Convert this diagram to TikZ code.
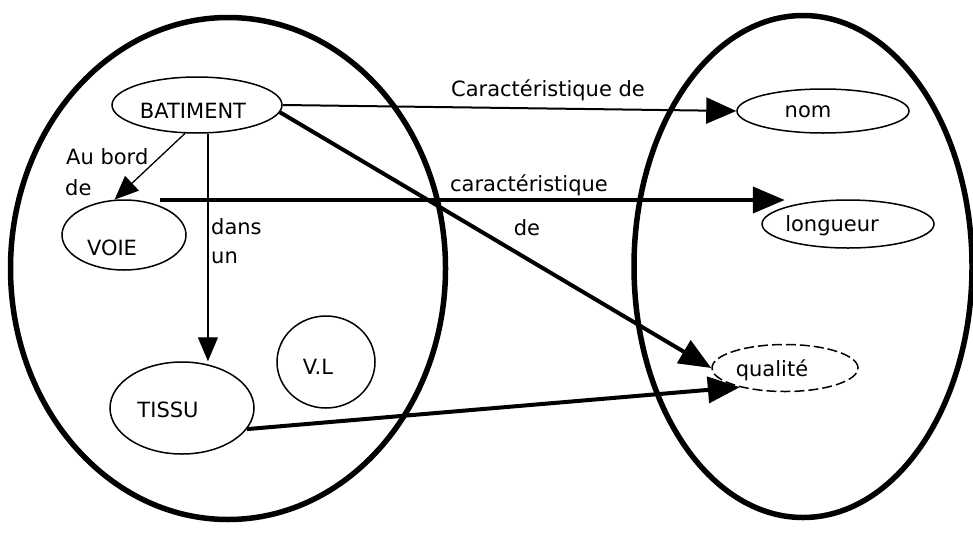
\documentclass[tikz,border=0pt]{standalone}
\usepackage{fontspec}
\setmainfont{DejaVu Sans}
\usetikzlibrary{arrows.meta,shapes.geometric}
\begin{document}
\begin{tikzpicture}[x=1pt,y=-1pt,
  txt/.style={font=\fontsize{21}{25}\selectfont, inner sep=0pt},
  ell/.style={draw, ellipse, line width=1.5pt, inner sep=0pt},
  bigell/.style={line width=5.5pt},
  thinarr/.style={line width=1.3pt, -{Triangle[length=24pt,width=20pt]}},
  midarr/.style={line width=2pt, -{Triangle[length=30pt,width=26pt]}},
  thickarr/.style={line width=4pt, -{Triangle[length=32pt,width=26pt]}}]
\useasboundingbox (0,0) rectangle (973,533);
\fill[white] (0,0) rectangle (973,533);

% big sets
\draw[bigell] (228,268.5) ellipse [x radius=217.5pt, y radius=251pt];
\draw[bigell] (803,266.5) ellipse [x radius=169pt, y radius=251pt];

% left nodes
\node[ell, minimum width=170pt, minimum height=56pt] (bat) at (197,105) {};
\node[txt] (batT) at (193,111) {BATIMENT};
\node[ell, minimum width=124pt, minimum height=70pt] (voie) at (124,235) {};
\node[txt] (voieT) at (112,248) {VOIE};
\node[ell, minimum width=144pt, minimum height=92pt] (tissu) at (182,408) {};
\node[txt] (tissuT) at (168,410) {TISSU};
\node[ell, minimum width=98pt, minimum height=92pt] (vl) at (326,362) {};
\node[txt] (vlT) at (318,367) {V.L};

% right nodes
\node[ell, minimum width=172pt, minimum height=44pt] (nom) at (823,111) {};
\node[txt] (nomT) at (808,112) {nom};
\node[ell, minimum width=172pt, minimum height=48pt] (long) at (848,224) {};
\node[txt] (longT) at (832,226) {longueur};
\node[ell, dashed, dash pattern=on 10pt off 4pt, minimum width=146pt, minimum height=47pt] (qual) at (785,368) {};
\node[txt] (qualT) at (772,370) {qualité};

% connectors
\draw[midarr] (bat.east) -- (nom.west);
\coordinate (c2) at (160,200);
\draw[thickarr] (c2) -- (c2 -| long.165);
\draw[thickarr] (bat.-5) -- (qual.west);
\draw[thickarr] (tissu.-18) -- (qual.-157);
\draw[thinarr] (bat.-113) -- (voie.105);
\draw[thinarr] (bat.-69) -- (bat.-69 |- tissu.north);

% labels
\node[txt] (l1) at (548,90) {Caractéristique de};
\node[txt] (l2a) at (529,185) {caractéristique};
\node[txt] (l2b) at (527,228) {de};
\node[txt, anchor=west] (l3a) at (66,157) {Au bord};
\node[txt, anchor=west] (l3b) at (65,188) {de};
\node[txt, anchor=west] (l4a) at (211,227) {dans};
\node[txt, anchor=west] (l4b) at (211,258) {un};
\end{tikzpicture}
\end{document}
